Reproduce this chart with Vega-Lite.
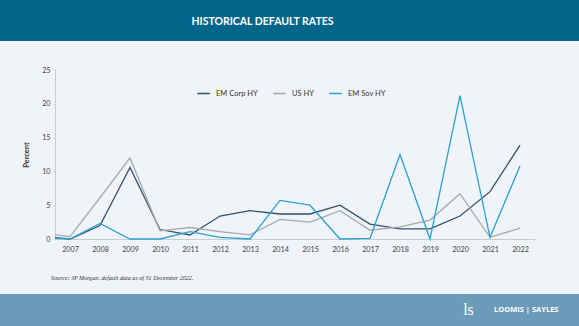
{
  "$schema": "https://vega.github.io/schema/vega-lite/v6.json",
  "padding": 0,
  "spacing": 0,
  "background": "#f0f3f8",
  "config": {
    "view": {"stroke": null},
    "font": "Lato",
    "concat": {"spacing": 0}
  },
  "vconcat": [
    {
      "width": 579,
      "height": 41,
      "view": {"fill": "#01668a", "stroke": null},
      "data": {"values": [{"t": "HISTORICAL DEFAULT RATES"}]},
      "mark": {"type": "text", "color": "#ffffff", "font": "Lato", "fontWeight": "bold", "fontSize": 10.5, "dx": -27, "dy": 1, "baseline": "middle"},
      "encoding": {"text": {"field": "t"}}
    },
    {
      "width": 579,
      "height": 253,
      "title": {
        "text": "Source: JP Morgan, default data as of 31 December 2022.",
        "orient": "bottom",
        "anchor": "start",
        "frame": "group",
        "offset": -19,
        "dx": 51,
        "font": "Liberation Serif",
        "fontStyle": "italic",
        "fontWeight": "normal",
        "fontSize": 6.1,
        "color": "#333333"
      },
      "data": {
        "values": [
          {"year": 2006.5, "series": "EM Corp HY", "value": 0.2},
          {"year": 2007, "series": "EM Corp HY", "value": 0.0},
          {"year": 2008, "series": "EM Corp HY", "value": 2.0},
          {"year": 2009, "series": "EM Corp HY", "value": 10.6},
          {"year": 2010, "series": "EM Corp HY", "value": 1.4},
          {"year": 2011, "series": "EM Corp HY", "value": 0.6},
          {"year": 2012, "series": "EM Corp HY", "value": 3.4},
          {"year": 2013, "series": "EM Corp HY", "value": 4.2},
          {"year": 2014, "series": "EM Corp HY", "value": 3.7},
          {"year": 2015, "series": "EM Corp HY", "value": 3.7},
          {"year": 2016, "series": "EM Corp HY", "value": 5.0},
          {"year": 2017, "series": "EM Corp HY", "value": 2.2},
          {"year": 2018, "series": "EM Corp HY", "value": 1.5},
          {"year": 2019, "series": "EM Corp HY", "value": 1.5},
          {"year": 2020, "series": "EM Corp HY", "value": 3.4},
          {"year": 2021, "series": "EM Corp HY", "value": 7.0},
          {"year": 2022, "series": "EM Corp HY", "value": 13.9},
          {"year": 2006.5, "series": "US HY", "value": 0.6},
          {"year": 2007, "series": "US HY", "value": 0.35},
          {"year": 2008, "series": "US HY", "value": 6.1},
          {"year": 2009, "series": "US HY", "value": 12.0},
          {"year": 2010, "series": "US HY", "value": 1.2},
          {"year": 2011, "series": "US HY", "value": 1.7},
          {"year": 2012, "series": "US HY", "value": 1.1},
          {"year": 2013, "series": "US HY", "value": 0.6},
          {"year": 2014, "series": "US HY", "value": 2.9},
          {"year": 2015, "series": "US HY", "value": 2.5},
          {"year": 2016, "series": "US HY", "value": 4.2},
          {"year": 2017, "series": "US HY", "value": 1.3},
          {"year": 2018, "series": "US HY", "value": 1.8},
          {"year": 2019, "series": "US HY", "value": 2.8},
          {"year": 2020, "series": "US HY", "value": 6.7},
          {"year": 2021, "series": "US HY", "value": 0.25},
          {"year": 2022, "series": "US HY", "value": 1.6},
          {"year": 2006.5, "series": "EM Sov HY", "value": 0.1},
          {"year": 2007, "series": "EM Sov HY", "value": 0.0},
          {"year": 2008, "series": "EM Sov HY", "value": 2.3},
          {"year": 2009, "series": "EM Sov HY", "value": 0.0},
          {"year": 2010, "series": "EM Sov HY", "value": 0.0},
          {"year": 2011, "series": "EM Sov HY", "value": 1.1},
          {"year": 2012, "series": "EM Sov HY", "value": 0.25},
          {"year": 2013, "series": "EM Sov HY", "value": 0.0},
          {"year": 2014, "series": "EM Sov HY", "value": 5.7},
          {"year": 2015, "series": "EM Sov HY", "value": 5.0},
          {"year": 2016, "series": "EM Sov HY", "value": 0.0},
          {"year": 2017, "series": "EM Sov HY", "value": 0.1},
          {"year": 2018, "series": "EM Sov HY", "value": 12.5},
          {"year": 2019, "series": "EM Sov HY", "value": 0.0},
          {"year": 2020, "series": "EM Sov HY", "value": 21.2},
          {"year": 2021, "series": "EM Sov HY", "value": 0.25},
          {"year": 2022, "series": "EM Sov HY", "value": 10.8}
        ]
      },
      "mark": {"type": "line", "strokeWidth": 1.3, "clip": false},
      "encoding": {
        "x": {
          "field": "year",
          "type": "quantitative",
          "scale": {"domain": [2006.5, 2022.5], "range": [55, 535], "nice": false, "zero": false},
          "axis": {
            "title": null,
            "values": [2007, 2008, 2009, 2010, 2011, 2012, 2013, 2014, 2015, 2016, 2017, 2018, 2019, 2020, 2021, 2022],
            "format": "d",
            "offset": -55,
            "grid": false,
            "ticks": false,
            "domainColor": "#c9ccd0",
            "domainWidth": 1,
            "labelFont": "Lato",
            "labelFontSize": 7.2,
            "labelColor": "#444444",
            "labelPadding": 6
          }
        },
        "y": {
          "field": "value",
          "type": "quantitative",
          "scale": {"domain": [0, 25], "range": [198, 29], "nice": false},
          "axis": {
            "title": "Percent",
            "values": [0, 5, 10, 15, 20, 25],
            "offset": -55,
            "grid": false,
            "ticks": true,
            "tickSize": 2,
            "tickColor": "#c9ccd0",
            "domainColor": "#c9ccd0",
            "labelFont": "Lato",
            "labelFontSize": 7.2,
            "labelColor": "#444444",
            "labelPadding": 3,
            "titleFont": "Lato",
            "titleFontSize": 7.5,
            "titleFontWeight": "bold",
            "titleColor": "#333333",
            "titlePadding": 11
          }
        },
        "color": {
          "field": "series",
          "type": "nominal",
          "sort": ["EM Corp HY", "US HY", "EM Sov HY"],
          "scale": {"domain": ["EM Corp HY", "US HY", "EM Sov HY"], "range": ["#34506e", "#a7a9ab", "#2aa3cf"]},
          "legend": {
            "title": null,
            "orient": "none",
            "legendX": 196,
            "legendY": 86,
            "direction": "horizontal",
            "symbolType": "stroke",
            "symbolSize": 160,
            "symbolStrokeWidth": 1.5,
            "labelFont": "Lato",
            "labelFontSize": 7.5,
            "labelColor": "#333333",
            "columnPadding": 12,
            "labelOffset": 5
          }
        }
      }
    },
    {
      "width": 579,
      "height": 32,
      "view": {"fill": "#6b9bb8", "stroke": null},
      "layer": [
        {
          "data": {"values": [{"t": "LOOMIS | SAYLES"}]},
          "mark": {"type": "text", "color": "#ffffff", "font": "Open Sans", "fontWeight": "bold", "fontSize": 7.5, "align": "right", "dx": 269, "dy": 0, "baseline": "middle", "letterSpacing": 1.3},
          "encoding": {"text": {"field": "t"}}
        },
        {
          "data": {"values": [{"t": "ls"}]},
          "mark": {"type": "text", "color": "#ffffff", "font": "Liberation Serif", "fontWeight": "normal", "fontSize": 16, "align": "center", "dx": 179, "dy": 0, "baseline": "middle"},
          "encoding": {"text": {"field": "t"}}
        }
      ]
    }
  ]
}
